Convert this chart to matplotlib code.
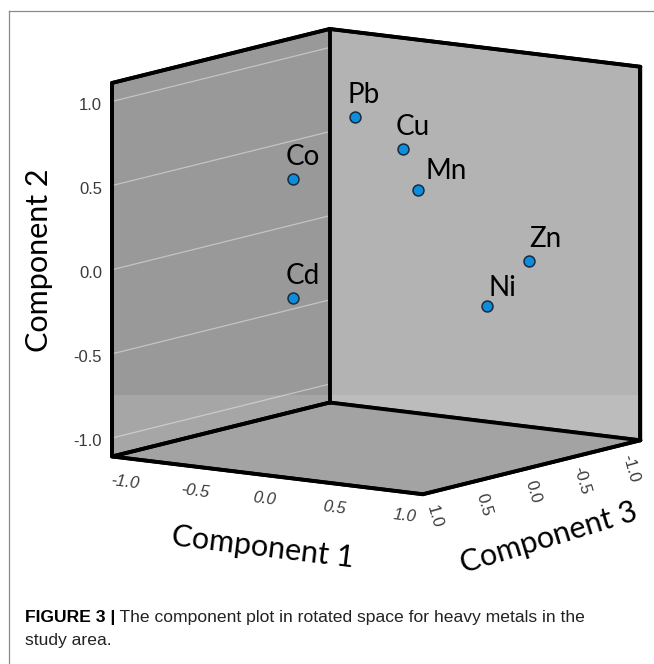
import numpy as np
import matplotlib
matplotlib.use("Agg")
import matplotlib.pyplot as plt
from matplotlib.lines import Line2D
from mpl_toolkits.mplot3d import proj3d
from mpl_toolkits.mplot3d.art3d import Poly3DCollection

# component loadings (rotated space)
metals = ["Pb", "Cu", "Mn", "Zn", "Ni", "Co", "Cd"]
comp1 = [0.10, 0.30, 0.35, 0.95, 0.86, 0.05, 0.05]
comp2 = [0.92, 0.72, 0.47, 0.07, -0.16, 0.63, -0.08]
comp3 = [0.36, 0.16, 0.07, -0.20, 0.10, 0.92, 0.92]

tick_vals = [-1.0, -0.5, 0.0, 0.5, 1.0]
tick_labels = ["-1.0", "-0.5", "0.0", "0.5", "1.0"]

caption_bold = "FIGURE 3 |"
caption_rest = " The component plot in rotated space for heavy metals in the"
caption_line2 = "study area."

LIM = 1.11
W, H = 654, 664

# label offsets (pixels) from the marker, baseline-left anchored
label_nudge = {"Mn": (7, 11), "Zn": (0, 14), "Ni": (2, 10)}
default_nudge = (-7, 14)

label_font = ["Lato", "DejaVu Sans"]
tick_font = ["Liberation Sans", "DejaVu Sans"]
tick_col = "#3a3a3a"

fig = plt.figure(figsize=(W / 100, H / 100), dpi=100)
fig.patch.set_facecolor("white")
ax = fig.add_axes([0.05, 0.15, 0.9, 0.8], projection="3d", proj_type="ortho")
ax.set_facecolor("none")

# mpl axes: x = Component 3, y = Component 1, z = Component 2
ax.set_xlim(-LIM, LIM)
ax.set_ylim(-LIM, LIM)
ax.set_zlim(-LIM, LIM)
ax.set_box_aspect((1, 1, 1))
ax.view_init(elev=10, azim=35)

ax.set_xticks([])
ax.set_yticks([])
ax.set_zticks([])
ax.grid(False)

pane_cols = {ax.xaxis: "#b3b3b3", ax.yaxis: "#999999", ax.zaxis: "#a3a3a3"}
for axis, col in pane_cols.items():
    axis.set_pane_color(col)
    axis.pane.set_edgecolor("black")
    axis.pane.set_linewidth(2.6)
    axis.pane.set_joinstyle("round")
    axis.line.set_linewidth(0)

# light grid lines on the left wall for Component 2
for t in tick_vals:
    ax.plot([-LIM, LIM], [-LIM, -LIM], [t, t], color="#c4c4c4", lw=0.9, zorder=1)

ax.scatter(comp3, comp1, comp2, s=62, c="#0b8fdc", edgecolors="#1c2a40",
           linewidths=1.1, depthshade=False, zorder=5)

# fit the cube onto the target frame: uniform scale + shift of the axes box
fig.canvas.draw()
corners = np.array([[-LIM, -LIM, LIM], [LIM, -LIM, -LIM],
                    [-LIM, LIM, -LIM], [LIM, LIM, -LIM]])
targets = np.array([[330, 28], [113, 457], [640, 441], [422, 494]], dtype=float)
targets[:, 1] = H - targets[:, 1]
px, py, _ = proj3d.proj_transform(corners[:, 0], corners[:, 1], corners[:, 2],
                                  ax.get_proj())
cur = ax.transData.transform(np.column_stack([px, py]))
cm, tm = cur.mean(axis=0), targets.mean(axis=0)
s = np.sum((cur - cm) * (targets - tm)) / np.sum((cur - cm) ** 2)
shift = tm - s * cm
x0, y0, bw, bh = ax.bbox.bounds
ax.set_position([(s * x0 + shift[0]) / W, (s * y0 + shift[1]) / H,
                 s * bw / W, s * bh / H])
fig.canvas.draw()

M = ax.get_proj()


def p2(x, y, z):
    xs, ys, _ = proj3d.proj_transform(np.atleast_1d(x), np.atleast_1d(y),
                                      np.atleast_1d(z), M)
    return xs[0], ys[0]


def disp_y(x, y, z):
    return ax.transData.transform(p2(x, y, z))[1]


def label_at(s_, xyz, off, **kw):
    ax.annotate(s_, p2(*xyz), xytext=off, textcoords="offset pixels",
                annotation_clip=False, **kw)


# slightly lighter lower band on both walls (as in the scanned original)
band_y = H - 395


def z_for_band(xv, yv):
    ya, yb = disp_y(xv, yv, -LIM), disp_y(xv, yv, LIM)
    return -LIM + (band_y - ya) / (yb - ya) * 2 * LIM


left_band = [(-LIM, -LIM, -LIM), (LIM, -LIM, -LIM),
             (LIM, -LIM, z_for_band(LIM, -LIM)), (-LIM, -LIM, z_for_band(-LIM, -LIM))]
right_band = [(-LIM, -LIM, -LIM), (-LIM, LIM, -LIM),
              (-LIM, LIM, z_for_band(-LIM, LIM)), (-LIM, -LIM, z_for_band(-LIM, -LIM))]
ax.add_collection3d(Poly3DCollection([left_band, right_band], facecolors="white",
                                     alpha=0.13, edgecolors="none"))

# cube outline drawn on top
lo, hi = -LIM, LIM
edges = [
    ((hi, hi), (lo, lo), (lo, hi)),   # left vertical
    ((lo, lo), (lo, lo), (lo, hi)),   # back vertical
    ((lo, lo), (hi, hi), (lo, hi)),   # right vertical
    ((lo, hi), (lo, lo), (hi, hi)),   # top of left wall
    ((lo, lo), (lo, hi), (hi, hi)),   # top of right wall
    ((lo, hi), (lo, lo), (lo, lo)),   # floor back-left
    ((lo, lo), (lo, hi), (lo, lo)),   # floor back-right
    ((hi, hi), (lo, hi), (lo, lo)),   # floor front-left
    ((lo, hi), (hi, hi), (lo, lo)),   # floor front-right
]
for ex, ey, ez in edges:
    ax.plot(ex, ey, ez, color="black", lw=2.8, solid_capstyle="round", zorder=20)

# tick labels
for t, lab in zip(tick_vals, tick_labels):
    label_at(lab, (LIM, -LIM, t), (-10, -4), ha="right", va="center",
             fontsize=12, color=tick_col, family=tick_font)
    label_at(lab, (LIM, t, -LIM), (-3, -24), ha="center", va="center",
             rotation=-7, fontsize=12, color=tick_col, family=tick_font,
             style="italic")
    label_at(lab, (t, LIM, -LIM), (1, -25), ha="center", va="center",
             rotation=-74, fontsize=12, color=tick_col, family=tick_font)

# axis titles
label_at("Component 2", (LIM, -LIM, 0.0), (-73, 9), rotation=90,
         ha="center", va="center", fontsize=22, family=label_font)
label_at("Component 1", (LIM, 0.0, -LIM), (-5, -72), rotation=-7,
         ha="center", va="center", fontsize=22, family=label_font)
label_at("Component 3", (0.0, LIM, -LIM), (17, -70), rotation=17,
         ha="center", va="center", fontsize=22, family=label_font)

# point labels
for name, a, b, c in zip(metals, comp3, comp1, comp2):
    label_at(name, (a, b, c), label_nudge.get(name, default_nudge),
             ha="left", va="baseline", fontsize=20, family=label_font)

# frame lines
fig.add_artist(Line2D([9 / W, 1], [1 - 11 / H, 1 - 11 / H], color="#8a8a8a", lw=0.9))
fig.add_artist(Line2D([9 / W, 9 / W], [0, 1 - 11 / H], color="#8a8a8a", lw=0.9))

# caption
cap_font = ["Liberation Sans Narrow", "Liberation Sans", "DejaVu Sans"]
t1 = fig.text(25 / W, 1 - 622 / H, caption_bold, fontsize=12.6, weight="bold",
              family=cap_font, va="baseline")
fig.canvas.draw()
bb = t1.get_window_extent()
fig.text(bb.x1 / W, 1 - 622 / H, caption_rest, fontsize=12.6, family=cap_font,
         va="baseline", color="#222222")
fig.text(25 / W, 1 - 645 / H, caption_line2, fontsize=12.6, family=cap_font,
         va="baseline", color="#222222")

fig.savefig("out.png", dpi=100)
